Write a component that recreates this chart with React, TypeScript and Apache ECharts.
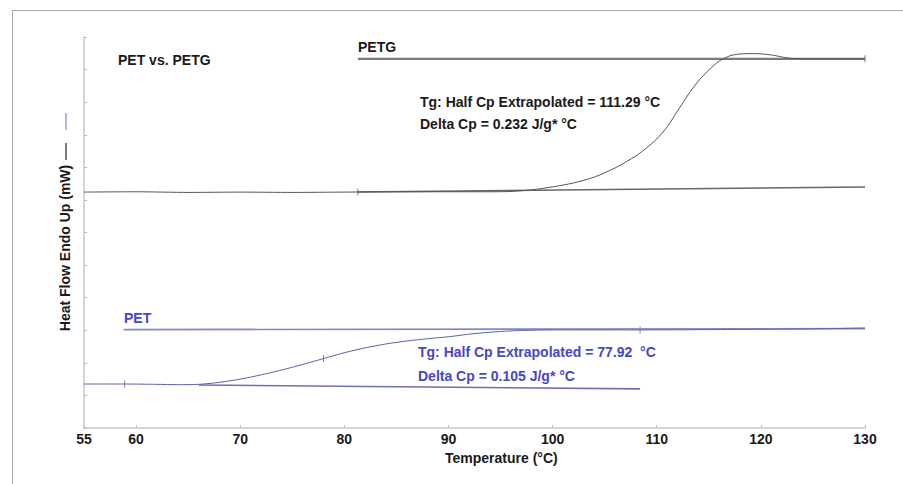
import React, { useEffect, useRef } from "react";
import * as echarts from "echarts";

// Temperature (°C) vs. heat flow (arbitrary axis units, 0..12)
const xTickValues = [55, 60, 70, 80, 90, 100, 110, 120, 130];

const petgCurve: [number, number][] = [
  [55, 7.24], [60, 7.25], [65, 7.23], [70, 7.24], [75, 7.23], [80, 7.24], [85, 7.25],
  [90, 7.25], [94, 7.25], [96, 7.26], [98, 7.31], [100, 7.4], [102, 7.52], [104, 7.7],
  [106, 7.98], [108, 8.35], [109, 8.59], [110, 8.87], [111, 9.24], [112, 9.73],
  [113, 10.22], [114, 10.65], [115, 10.99], [116, 11.26], [117, 11.42], [118, 11.48],
  [119.5, 11.49], [121, 11.45], [122.5, 11.36], [124, 11.33], [127, 11.33], [130, 11.33],
];
const petgUpperTangent: [number, number][] = [[81.3, 11.33], [130, 11.33]];
const petgLowerTangent: [number, number][] = [[81.3, 7.24], [130, 7.4]];

const petCurve: [number, number][] = [
  [55, 1.35], [58.9, 1.35], [62, 1.34], [64, 1.33], [66, 1.34], [68, 1.4], [70, 1.5],
  [72, 1.63], [74, 1.78], [76, 1.95], [78, 2.13], [80, 2.31], [82, 2.46], [84, 2.58],
  [86, 2.67], [88, 2.74], [90, 2.8], [92, 2.88], [94, 2.94], [96, 2.98], [98, 3.0],
  [100, 3.01], [108.4, 3.01], [115, 3.02], [120, 3.03], [125, 3.04], [130, 3.07],
];
const petUpperTangent: [number, number][] = [[58.8, 3.02], [130, 3.05]];
const petLowerTangent: [number, number][] = [[66, 1.32], [108.4, 1.2]];

const petgMarks: [number, number][] = [[81.3, 7.24], [130, 11.33]];
const petMarks: [number, number][] = [[58.9, 1.35], [78, 2.13], [108.4, 3.01]];

const petgTg = "Tg: Half Cp Extrapolated = 111.29 \u00B0C";
const petgDcp = "Delta Cp = 0.232 J/g* \u00B0C";
const petTg = "Tg: Half Cp Extrapolated = 77.92  \u00B0C";
const petDcp = "Delta Cp = 0.105 J/g* \u00B0C";

const FONT = "'Liberation Sans', Arial, sans-serif";
const BLUE_TEXT = "#4646c8";
const BLACK_TEXT = "#1a1a1a";

export default function App() {
  const ref = useRef<HTMLDivElement>(null);
  useEffect(() => {
    if (!ref.current) return;
    const chart = echarts.init(ref.current, null, { renderer: "svg" });
    const txt = (x: number, y: number, text: string, color: string, size = 14) => ({
      type: "text",
      left: x,
      top: y - size / 2 - 1,
      silent: true,
      style: { text, fill: color, font: `bold ${size}px ${FONT}` },
    });
    chart.setOption({
      animation: false,
      backgroundColor: "#ffffff",
      grid: { left: 84, right: 38, top: 37, bottom: 56 },
      xAxis: {
        type: "value",
        min: 55,
        max: 130,
        interval: 5,
        axisLine: { lineStyle: { color: "#c8c8c8", width: 1.5 } },
        axisTick: { show: true, length: 3, inside: true, customValues: xTickValues, lineStyle: { color: "#bbbbbb" } },
        axisLabel: {
          customValues: xTickValues,
          margin: 4,
          color: "#1a1a1a",
          fontWeight: "bold",
          fontSize: 14,
          fontFamily: FONT,
          formatter: (v: number) => (xTickValues.includes(v) ? String(v) : ""),
        },
        splitLine: { show: false },
      },
      yAxis: {
        type: "value",
        min: 0,
        max: 12,
        interval: 1,
        axisLine: { show: true, lineStyle: { color: "#c8c8c8", width: 1.5 } },
        axisTick: { show: true, inside: true, length: 3, lineStyle: { color: "#bbbbbb" } },
        axisLabel: { show: false },
        splitLine: { show: false },
      },
      series: [
        { type: "line", name: "PETG upper", data: petgUpperTangent, symbol: "none", lineStyle: { color: "#7a7a7a", width: 2.2 } },
        { type: "line", name: "PETG lower", data: petgLowerTangent, symbol: "none", lineStyle: { color: "#666666", width: 1.5 } },
        { type: "line", name: "PETG", data: petgCurve, symbol: "none", smooth: 0.25, lineStyle: { color: "#555555", width: 1 } },
        { type: "line", name: "PET upper", data: petUpperTangent, symbol: "none", lineStyle: { color: "#8088c8", width: 1.6 } },
        { type: "line", name: "PET lower", data: petLowerTangent, symbol: "none", lineStyle: { color: "#6a70b8", width: 1.6 } },
        { type: "line", name: "PET", data: petCurve, symbol: "none", smooth: 0.25, lineStyle: { color: "#5a62b0", width: 1 } },
        { type: "scatter", name: "PETG marks", data: petgMarks, symbol: "rect", symbolSize: [1, 7], itemStyle: { color: "#555555" } },
        { type: "scatter", name: "PET marks", data: petMarks, symbol: "rect", symbolSize: [1, 7], itemStyle: { color: "#5a62b0" } },
      ],
      graphic: [
        { type: "line", silent: true, shape: { x1: 12, y1: 10.5, x2: 903, y2: 10.5 }, style: { stroke: "#a8a8a8", lineWidth: 1 } },
        { type: "line", silent: true, shape: { x1: 12.5, y1: 10, x2: 12.5, y2: 484 }, style: { stroke: "#a8a8a8", lineWidth: 1 } },
        txt(118, 61, "PET vs. PETG", BLACK_TEXT),
        txt(358, 48, "PETG", BLACK_TEXT),
        txt(420, 103, petgTg, BLACK_TEXT),
        txt(420, 125, petgDcp, BLACK_TEXT),
        txt(124, 319, "PET", BLUE_TEXT),
        txt(418, 353, petTg, BLUE_TEXT),
        txt(418, 377, petDcp, BLUE_TEXT),
        {
          type: "text",
          left: 445,
          top: 451,
          silent: true,
          style: { text: "Temperature (\u00B0C)", fill: BLACK_TEXT, font: `bold 14px ${FONT}` },
        },
        {
          type: "text",
          x: 65,
          y: 248,
          rotation: Math.PI / 2,
          silent: true,
          style: {
            text: "Heat Flow Endo Up (mW)",
            fill: BLACK_TEXT,
            font: `bold 14px ${FONT}`,
            align: "center",
            verticalAlign: "middle",
          },
        },
        { type: "line", silent: true, shape: { x1: 66, y1: 143, x2: 66, y2: 160 }, style: { stroke: "#7a7a7a", lineWidth: 2 } },
        { type: "line", silent: true, shape: { x1: 66, y1: 113, x2: 66, y2: 130 }, style: { stroke: "#b0b4f0", lineWidth: 2 } },
      ],
    });
    return () => chart.dispose();
  }, []);
  return <div ref={ref} style={{ position: "fixed", left: 0, top: 0, width: 903, height: 484 }} />;
}
